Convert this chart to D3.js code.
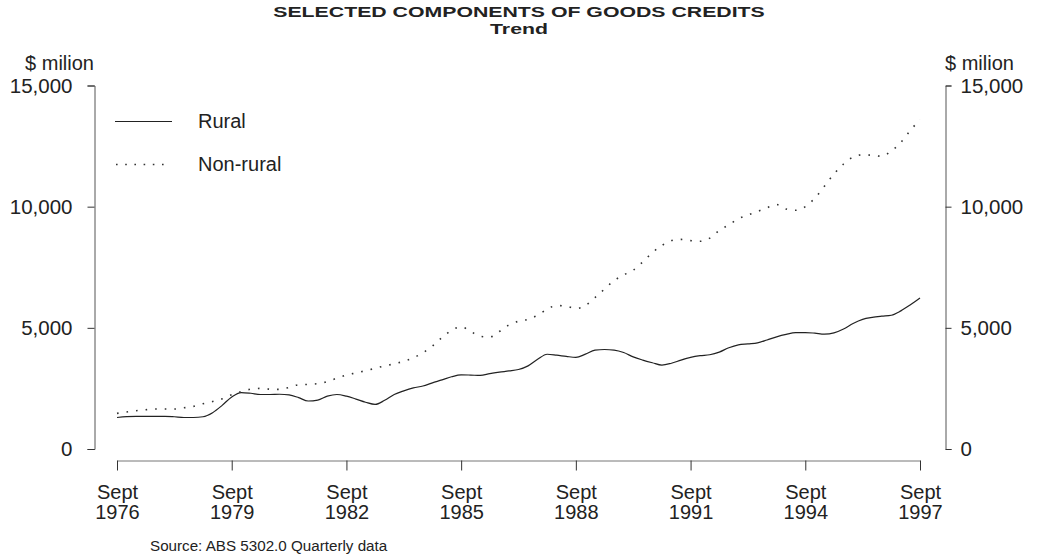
<!DOCTYPE html>
<html>
<head>
    <style>
        body { margin: 0; background: #fff; }
        text { font-family: "Liberation Sans", Arial, sans-serif; fill: #222; }
    </style>
    <script src="https://d3js.org/d3.v7.min.js"></script>
</head>
<body>
    <svg width="1038" height="557"></svg>
    <script>

        // quarterly, Sept 1976 .. Sept 1997 ($ million, trend)
        var startYear = 1976;
        var rural = [1300, 1340, 1350, 1350, 1350, 1350, 1330, 1300, 1300, 1330,
                     1500, 1800, 2150, 2330, 2300, 2250, 2250, 2260, 2230, 2120,
                     1980, 2020, 2180, 2250, 2180, 2060, 1930, 1840, 2010, 2250,
                     2400, 2520, 2600, 2730, 2850, 2980, 3060, 3050, 3035, 3110,
                     3170, 3220, 3280, 3430, 3700, 3910, 3870, 3820, 3780, 3915,
                     4080, 4105, 4080, 3980, 3800, 3670, 3560, 3460, 3540, 3670,
                     3780, 3850, 3890, 4000, 4180, 4300, 4340, 4380, 4500, 4630,
                     4730, 4800, 4805, 4780, 4740, 4790, 4950, 5180, 5350, 5430,
                     5480, 5520, 5700, 5950, 6230];
        var nonRural = [1470, 1525, 1580, 1620, 1650, 1650, 1650, 1700, 1760, 1870,
                        1960, 2070, 2240, 2370, 2470, 2500, 2470, 2460, 2540, 2650,
                        2665, 2700, 2780, 2925, 3050, 3140, 3230, 3330, 3430, 3515,
                        3620, 3760, 3970, 4250, 4600, 4900, 5040, 4850, 4650, 4620,
                        4850, 5120, 5270, 5350, 5520, 5770, 5920, 5890, 5795, 5920,
                        6250, 6600, 6950, 7180, 7380, 7720, 8100, 8400, 8600, 8650,
                        8600, 8570, 8700, 9020, 9250, 9500, 9660, 9800, 9955, 10090,
                        9900, 9850, 10000, 10350, 10840, 11350, 11760, 12050, 12140, 12120,
                        12080, 12300, 12650, 13150, 13600];
        var seriesNames = ["Rural", "Non-rural"];
        var yTicks = [0, 5000, 10000, 15000];
        var xTickYears = [1976, 1979, 1982, 1985, 1988, 1991, 1994, 1997];

        var svg = d3.select("svg");

        var x = d3.scaleLinear().domain([0, rural.length - 1]).range([117, 920]);
        var y = d3.scaleLinear().domain([0, 15000]).range([449, 85.5]);

        // title
        var title = svg.append("g").attr("font-weight", "bold").attr("font-size", 14);
        title.append("text").attr("transform", "translate(519,17) scale(1.52,1)")
            .attr("text-anchor", "middle").text("SELECTED COMPONENTS OF GOODS CREDITS");
        title.append("text").attr("transform", "translate(519,33.5) scale(1.52,1)")
            .attr("text-anchor", "middle").text("Trend");

        // y axes, left and right
        var fmt = d3.format(",");
        var left = svg.append("g").attr("transform", "translate(94.5,0)")
            .call(d3.axisLeft(y).tickValues(yTicks).tickFormat(fmt).tickSize(7).tickPadding(15));
        var right = svg.append("g").attr("transform", "translate(945.5,0)")
            .call(d3.axisRight(y).tickValues(yTicks).tickFormat(fmt).tickSize(6).tickPadding(9));
        [left, right].forEach(function(a) {
            a.select(".domain").attr("stroke", "#555");
            a.selectAll(".tick line").attr("stroke", "#333");
            a.selectAll("text").attr("font-size", 20.5).attr("fill", "#222")
                .attr("font-family", "Liberation Sans, Arial, sans-serif");
        });

        svg.append("text").attr("x", 94).attr("y", 70).attr("text-anchor", "end")
            .attr("font-size", 20).text("$ milion");
        svg.append("text").attr("x", 945).attr("y", 70)
            .attr("font-size", 20).text("$ milion");

        // x axis
        var xTickIdx = xTickYears.map(function(yr) { return (yr - startYear) * 4; });
        var bottom = svg.append("g").attr("transform", "translate(0,460.5)")
            .call(d3.axisBottom(x).tickValues(xTickIdx).tickSize(10).tickSizeOuter(0).tickFormat(""));
        bottom.select(".domain").attr("stroke", "#777");
        bottom.selectAll(".tick line").attr("stroke", "#333");
        bottom.selectAll(".tick").each(function(d) {
            var t = d3.select(this).append("text").attr("text-anchor", "middle")
                .attr("font-size", 20).attr("fill", "#222")
                .attr("font-family", "Liberation Sans, Arial, sans-serif");
            t.append("tspan").attr("x", 0).attr("y", 38).text("Sept");
            t.append("tspan").attr("x", 0).attr("y", 58.5).text(startYear + d / 4);
        });

        // lines
        var line = d3.line()
            .x(function(d, i) { return x(i); })
            .y(function(d) { return y(d); })
            .curve(d3.curveMonotoneX);

        svg.append("path").datum(rural)
            .attr("d", line).attr("fill", "none")
            .attr("stroke", "#222").attr("stroke-width", 1.2);
        svg.append("path").datum(nonRural)
            .attr("d", line).attr("fill", "none")
            .attr("stroke", "#333").attr("stroke-width", 1.6)
            .attr("stroke-dasharray", "1.6,8");

        // legend
        var legend = svg.append("g");
        legend.append("line").attr("x1", 115).attr("x2", 172).attr("y1", 121.5).attr("y2", 121.5)
            .attr("stroke", "#222").attr("stroke-width", 1.2);
        legend.append("line").attr("x1", 116).attr("x2", 168).attr("y1", 164.5).attr("y2", 164.5)
            .attr("stroke", "#333").attr("stroke-width", 1.6).attr("stroke-dasharray", "1.6,7.6");
        legend.append("text").attr("x", 198).attr("y", 128).attr("font-size", 20).text(seriesNames[0]);
        legend.append("text").attr("x", 198).attr("y", 171).attr("font-size", 20).text(seriesNames[1]);

        // source
        svg.append("text").attr("x", 150).attr("y", 551).attr("font-size", 15.2)
            .text("Source: ABS 5302.0 Quarterly data");

    </script>
</body>
</html>
